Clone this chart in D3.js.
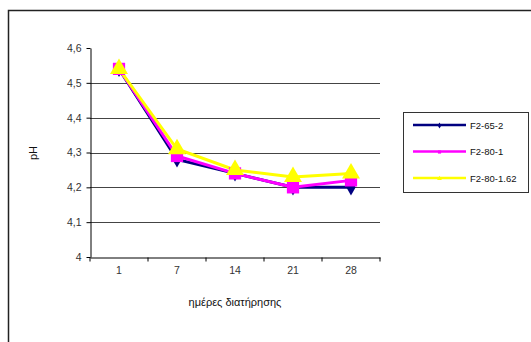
<!DOCTYPE html>
<html><head><meta charset="utf-8">
<script src="https://cdn.jsdelivr.net/npm/d3@7/dist/d3.min.js"></script>
<style>body{margin:0;background:#fff}svg{display:block;font-family:"Liberation Sans",Arial,sans-serif}</style>
</head><body><svg id="c" width="531" height="342"></svg>
<script>
const categories = ["1","7","14","21","28"];
const seriesNames = ["F2-65-2","F2-80-1","F2-80-1.62"];
const valuesF2_65_2 = [4.54,4.28,4.24,4.20,4.20];
const valuesF2_80_1 = [4.54,4.29,4.24,4.20,4.22];
const valuesF2_80_162 = [4.54,4.31,4.25,4.23,4.24];
const yTicks = [4,4.1,4.2,4.3,4.4,4.5,4.6];
const colors = ["#000080","#ff00ff","#ffff00"];
const shapes = [d3.symbolDiamond, d3.symbolSquare, d3.symbolTriangle];
const symSizes = [75,150,140];
const allValues = [valuesF2_65_2, valuesF2_80_1, valuesF2_80_162];

const svg = d3.select("#c");
svg.append("rect").attr("x",8.5).attr("y",10.5).attr("width",540).attr("height",340)
  .attr("fill","none").attr("stroke","#222").attr("stroke-width",1.5);

const x = d3.scaleBand().domain(categories).range([90,380]);
const y = d3.scaleLinear().domain([4,4.6]).range([257,48]);

svg.append("g").selectAll("line").data(yTicks.filter(t=>t>4 && t<4.6)).join("line")
  .attr("x1",90).attr("x2",380).attr("y1",d=>Math.round(y(d))+0.5).attr("y2",d=>Math.round(y(d))+0.5)
  .attr("stroke","#444").attr("stroke-width",1);

const fmt = d => String(d3.format(".1~f")(d)).replace(".",",");
const ya = svg.append("g").attr("transform","translate(90.5,0)")
  .call(d3.axisLeft(y).tickValues(yTicks).tickFormat(fmt).tickSize(4).tickSizeOuter(0));
ya.select(".domain").attr("stroke","#000");
ya.selectAll(".tick line").attr("stroke","#000");
ya.selectAll("text").attr("font-size",10.5).attr("fill","#333").attr("font-family","Liberation Sans, Arial, sans-serif").attr("dx","-2");

const xa = svg.append("g").attr("transform","translate(0,257.5)")
  .call(d3.axisBottom(x).tickSize(0).tickSizeOuter(0));
xa.select(".domain").attr("stroke","#000");
xa.selectAll("text").attr("font-size",10.5).attr("fill","#333").attr("font-family","Liberation Sans, Arial, sans-serif").attr("dy","1.3em");
xa.append("g").selectAll("line").data(categories.map(c=>x(c)).concat([380])).join("line")
  .attr("x1",d=>d).attr("x2",d=>d).attr("y1",0).attr("y2",4).attr("stroke","#000");

svg.append("text").attr("x",235).attr("y",306).attr("text-anchor","middle").attr("font-size",11).attr("fill","#111").text("ημέρες διατήρησης");
svg.append("text").attr("transform","translate(37,153) rotate(-90)").attr("text-anchor","middle").attr("font-size",11).attr("fill","#111").text("pH");

const line = d3.line().x((d,i)=>x(categories[i])+x.bandwidth()/2).y(d=>y(d));
allValues.forEach((vals,k)=>{
  svg.append("path").datum(vals).attr("d",line).attr("fill","none").attr("stroke",colors[k]).attr("stroke-width",3);
});
allValues.forEach((vals,k)=>{
  svg.append("g").selectAll("path").data(vals).join("path")
    .attr("transform",(d,i)=>`translate(${x(categories[i])+x.bandwidth()/2},${y(d)})`)
    .attr("d",d3.symbol().type(shapes[k]).size(symSizes[k])).attr("fill",colors[k]);
});

const lg = svg.append("g");
lg.append("rect").attr("x",403.5).attr("y",112.5).attr("width",125).attr("height",80).attr("fill","#fff").attr("stroke","#333").attr("stroke-width",1);
seriesNames.forEach((n,k)=>{
  const yy = 125 + k*26.5;
  lg.append("line").attr("x1",413).attr("x2",466).attr("y1",yy).attr("y2",yy).attr("stroke",colors[k]).attr("stroke-width",2.5);
  lg.append("path").attr("transform",`translate(439.5,${yy+0.5})`).attr("d",d3.symbol().type(shapes[k]).size(10)).attr("fill",colors[k]);
  lg.append("text").attr("x",470).attr("y",yy+3.5).attr("font-size",9.5).attr("fill","#111").text(n);
});
</script></body></html>
